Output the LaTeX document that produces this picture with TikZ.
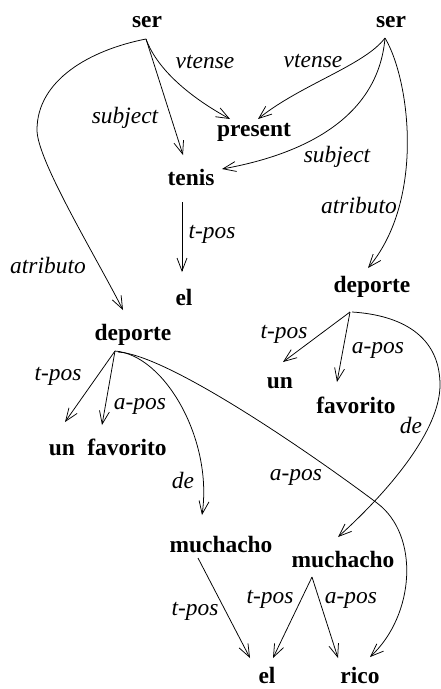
\documentclass[tikz,border=0pt]{standalone}
\usepackage{fontspec}
\setmainfont{Liberation Serif}
\usetikzlibrary{arrows.meta,calc}
\tikzset{
  word/.style={font=\fontsize{20}{24}\selectfont\bfseries, inner sep=0pt, text height=9pt, text depth=0pt},
  lab/.style={font=\fontsize{20}{24}\selectfont\itshape, inner sep=0pt, text height=9pt, text depth=0pt},
  arr/.style={line width=0.65pt, -{Straight Barb[length=11pt,width=8.5pt]}},
}
\begin{document}
\begin{tikzpicture}[x=0.03cm,y=-0.03cm]
\fill[white] (0,0) rectangle (441,689);
\useasboundingbox (0,0) rectangle (441,689);
% words
\node[word] (ser1) at (147,22) {ser};
\node[word] (ser2) at (391,22) {ser};
\node[word] (present) at (254,131) {present};
\node[word] (tenis) at (191,180) {tenis};
\node[word] (el1) at (184,300) {el};
\node[word] (deporteR) at (372,287) {deporte};
\node[word] (deporteL) at (133,335) {deporte};
\node[word] (unR) at (280,383) {un};
\node[word] (favR) at (356,408) {favorito};
\node[word] (unL) at (62,450) {un};
\node[word] (favL) at (127,450) {favorito};
\node[word] (much1) at (221,547) {muchacho};
\node[word] (much2) at (343,562) {muchacho};
\node[word] (el2) at (267,678) {el};
\node[word] (rico) at (360,678) {rico};
% labels
\node[lab] (l1) at (205,63) {vtense};
\node[lab] (l2) at (313,62) {vtense};
\node[lab] (l3) at (125,118) {subject};
\node[lab] (l4) at (337,157) {subject};
\node[lab] (l5) at (48,268) {atributo};
\node[lab] (l6) at (359,208) {atributo};
\node[lab] (l7) at (212,233) {t-pos};
\node[lab] (l8) at (58,375) {t-pos};
\node[lab] (l9) at (140,404) {a-pos};
\node[lab] (l10) at (183,483) {de};
\node[lab] (l11) at (296,475) {a-pos};
\node[lab] (l12) at (284,333) {t-pos};
\node[lab] (l13) at (378,348) {a-pos};
\node[lab] (l14) at (411,428) {de};
\node[lab] (l15) at (195,610) {t-pos};
\node[lab] (l16) at (270,598) {t-pos};
\node[lab] (l17) at (351,598) {a-pos};
% edges from ser1
\draw[arr] ($(ser1)+(-1,17)$) .. controls (158,72) and (195,100) .. ($(present)+(-24,-12)$);
\draw[arr] ($(ser1)+(-1,17)$) -- ($(tenis)+(-8,-25)$);
\draw[arr] ($(ser1)+(-1,17)$) .. controls (90,50) and (37,80) .. (37,130)
   .. controls (37,160) and (95,255) .. ($(deporteL)+(-10,-25)$);
% edges from ser2
\draw[arr] ($(ser2)+(-6,16)$) .. controls (365,65) and (300,85) .. ($(present)+(4,-12)$);
\draw[arr] ($(ser2)+(-6,16)$) .. controls (378,120) and (300,155) .. ($(tenis)+(31,-11)$);
\draw[arr] ($(ser2)+(-6,16)$) .. controls (410,80) and (425,200) .. ($(deporteR)+(-4,-19)$);
% tenis -> el
\draw[arr] ($(tenis)+(-9,22)$) -- ($(el1)+(-2,-28)$);
% deporte left
\draw[arr] ($(deporteL)+(-18,16)$) -- ($(unL)+(3,-28)$);
\draw[arr] ($(deporteL)+(-18,16)$) -- ($(favL)+(-25,-25)$);
\draw[arr] ($(deporteL)+(-18,16)$) .. controls (165,355) and (213,440) .. ($(much1)+(-19,-32)$);
\draw[arr] ($(deporteL)+(-15,17)$) .. controls (170,355) and (320,460) .. (377,503)
   .. controls (420,535) and (415,615) .. ($(rico)+(10,-21)$);
% deporte right
\draw[arr] ($(deporteR)+(-22,25)$) -- ($(unR)+(3,-21)$);
\draw[arr] ($(deporteR)+(-22,25)$) -- ($(favR)+(-19,-26)$);
\draw[arr] ($(deporteR)+(-20,25)$) .. controls (400,315) and (440,335) .. (440,385)
   .. controls (440,430) and (390,490) .. ($(much2)+(-5,-25)$);
% muchachos
\draw[arr] ($(much1)+(-23,11)$) -- ($(el2)+(-17,-20)$);
\draw[arr] ($(much2)+(-31,15)$) -- ($(el2)+(6,-20)$);
\draw[arr] ($(much2)+(-31,15)$) -- ($(rico)+(-22,-20)$);
\end{tikzpicture}
\end{document}
